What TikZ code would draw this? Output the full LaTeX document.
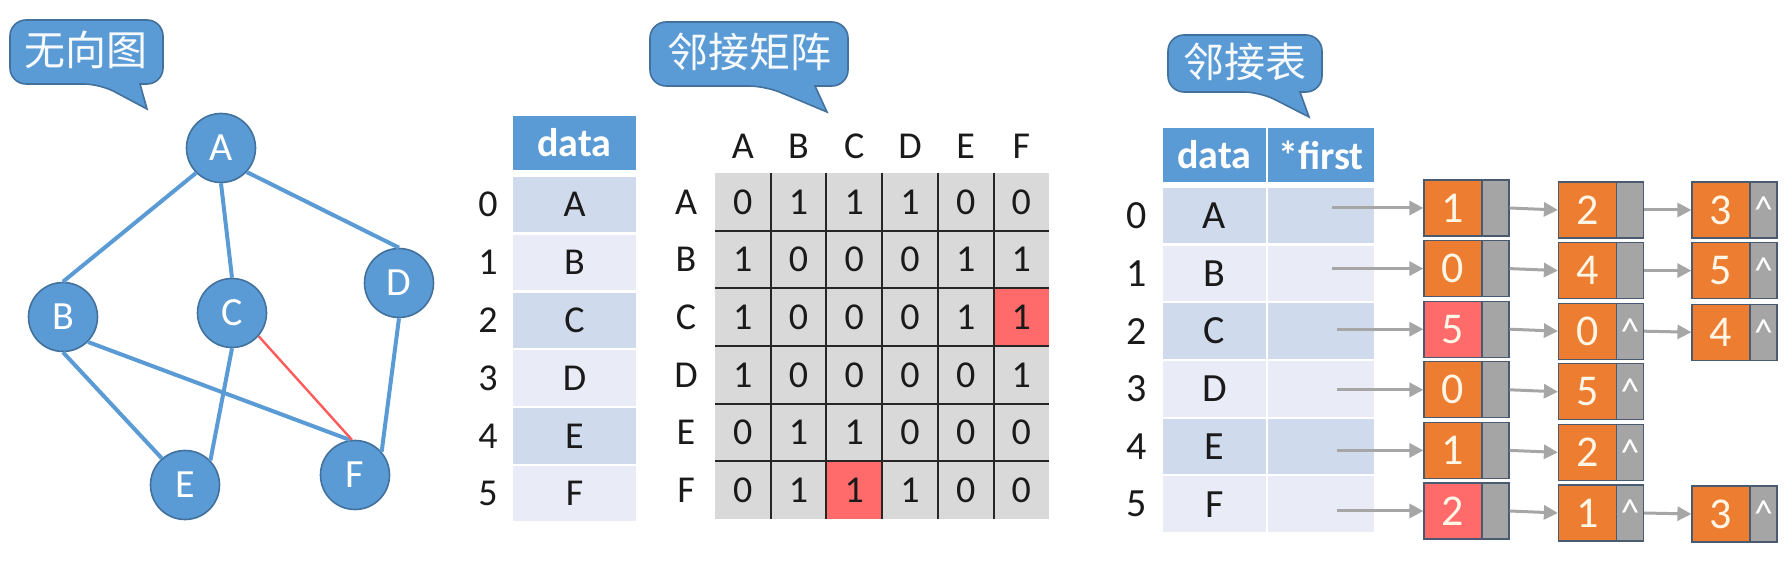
\documentclass[tikz,border=0pt]{standalone}
\usepackage{fontspec}
\setmainfont{Carlito}
\newfontfamily\cjk{Noto Sans CJK SC}
\usetikzlibrary{arrows.meta}
\definecolor{nblue}{HTML}{5B9BD5}
\definecolor{nborder}{HTML}{41719C}
\definecolor{rowA}{HTML}{CFDAEC}
\definecolor{rowB}{HTML}{E9ECF6}
\definecolor{mgray}{HTML}{D9D9D9}
\definecolor{hred}{HTML}{FF6B6B}
\definecolor{ored}{HTML}{ED7D31}
\definecolor{pgray}{HTML}{A5A5A5}
\definecolor{agray}{HTML}{A6A6A6}
\definecolor{redline}{HTML}{FF5B5B}
\definecolor{slate}{HTML}{4A5A70}
\definecolor{cream}{HTML}{FFF6E6}
\definecolor{txt}{HTML}{1A1A1A}
\newcommand{\LN}[7]{%
  \node[dnode, fill=#5] (d#1) at (#2,#4) {#6};
  \node[pnode] (p#1) at (#3,#4) {#7};}
\begin{document}
\begin{tikzpicture}[x=0.5pt,y=-0.5pt,
  gnode/.style={circle, fill=nblue, draw=nborder, line width=0.8pt, minimum size=34.5pt, inner sep=0pt, text=white, font=\fontsize{20}{22}\selectfont},
  gedge/.style={draw=nblue, line width=2pt},
  redge/.style={draw=redline, line width=1.2pt},
  callout/.style={fill=nblue, draw=nborder, line width=0.8pt},
  ctext/.style={text=white!95!nblue, font=\cjk\fontsize{20.5}{22}\selectfont, inner sep=0pt},
  hdr/.style={fill=nblue, inner sep=0pt, text=white, font=\bfseries\fontsize{20}{22}\selectfont, minimum height=27pt},
  tcell/.style={inner sep=0pt, text=txt, minimum height=27.75pt, font=\fontsize{19}{21}\selectfont},
  idx/.style={inner sep=0pt, text=txt, font=\fontsize{19}{21}\selectfont},
  mcell/.style={fill=mgray, minimum width=27.85pt, minimum height=28.85pt, inner sep=0pt, text=txt, font=\fontsize{19}{21}\selectfont},
  gridline/.style={draw=black!85, line width=1pt},
  dnode/.style={draw=slate, line width=0.6pt, minimum width=29pt, minimum height=28pt, inner sep=0pt, text=cream, font=\fontsize{22}{24}\selectfont},
  pnode/.style={fill=pgray, draw=slate, line width=0.6pt, minimum width=13.5pt, minimum height=28pt, inner sep=0pt, text=white, font=\fontsize{19}{21}\selectfont},
  larrow/.style={draw=agray, line width=1.5pt, -{Triangle[length=7pt,width=7pt]}}
]
\fill[white] (0,0) rectangle (1788,565);
\useasboundingbox (0,0) rectangle (1788,565);

% ---------- callouts ----------
\draw[callout] (140,84) [rounded corners=8] -- (163,84) -- (163,20) -- (10,20) -- (10,84) -- (100,84) [sharp corners] -- (147,109) -- cycle;
\node[ctext] (t1) at (86,50) {无向图};
\draw[callout] (815,86) [rounded corners=8] -- (848,86) -- (848,22) -- (650,22) -- (650,86) -- (765,86) [sharp corners] -- (827,112) -- cycle;
\node[ctext] (t2) at (749,52) {邻接矩阵};
\draw[callout] (1300,92) [rounded corners=8] -- (1322,92) -- (1322,35) -- (1168,35) -- (1168,92) -- (1260,92) [sharp corners] -- (1309,117) -- cycle;
\node[ctext] (t3) at (1245,62) {邻接表};

% ---------- graph ----------
\node[gnode] (A) at (221,148) {A};
\node[gnode] (B) at (63,317) {B};
\node[gnode] (C) at (232,313) {C};
\node[gnode] (D) at (399,283) {D};
\node[gnode] (E) at (185,485) {E};
\node[gnode] (F) at (355,475) {F};
\draw[gedge] (A.225) -- (B.north);
\draw[gedge] (A.south) -- (C.north);
\draw[gedge] (A.317) -- (D.north);
\draw[gedge] (B.south) -- (E.131);
\draw[gedge] (B.315) -- (F.98);
\draw[gedge] (C.south) -- (E.44);
\draw[gedge] (D.south) -- (F.41);
\draw[redge] (C.319) -- (F.95);

% ---------- vertex table (matrix section) ----------
\node[hdr, minimum width=61.5pt] (h1) at (574.5,143) {data};
\foreach \v [count=\i from 0] in {A,B,C,D,E,F}{
  \pgfmathsetmacro{\yy}{204.75+57.8*\i}
  \pgfmathtruncatemacro{\odd}{mod(\i,2)}
  \ifnum\odd=0 \def\rc{rowA}\else\def\rc{rowB}\fi
  \node[tcell, fill=\rc, minimum width=61.5pt] (v\i) at (574.5,\yy) {\v};
  \node[idx] (vi\i) at (488,\yy) {\i};
}

% ---------- adjacency matrix ----------
\foreach \l [count=\j from 0] in {A,B,C,D,E,F}{
  \node[idx] (ch\j) at ({742.85+55.7*\j},146) {\l};
  \node[idx] (rh\j) at (686,{201.85+57.7*\j}) {\l};
}
\foreach \row [count=\i from 0] in {{0,1,1,1,0,0},{1,0,0,0,1,1},{1,0,0,0,1,1},{1,0,0,0,0,1},{0,1,1,0,0,0},{0,1,1,1,0,0}}{
  \foreach \val [count=\j from 0] in \row {
    \node[mcell] (m\i\j) at ({742.85+55.7*\j},{201.85+57.7*\i}) {\val};
  }
}
\node[mcell, fill=hred] (m25) at (1021.35,317.25) {1};
\node[mcell, fill=hred] (m52) at (854.25,490.35) {1};
\foreach \j in {1,...,5}{
  \draw[gridline] ({715+55.7*\j},173) -- ({715+55.7*\j},519);
  \draw[gridline] (715,{173+57.7*\j}) -- (1049,{173+57.7*\j});
}

% ---------- adjacency list table ----------
\node[hdr, minimum width=51.5pt] (h2) at (1214.5,155) {data};
\node[hdr, minimum width=53pt] (h3) at (1321,155) {*first};
\foreach \v [count=\i from 0] in {A,B,C,D,E,F}{
  \pgfmathsetmacro{\yy}{215.75+57.7*\i}
  \pgfmathtruncatemacro{\odd}{mod(\i,2)}
  \ifnum\odd=0 \def\rc{rowA}\else\def\rc{rowB}\fi
  \node[tcell, fill=\rc, minimum width=51.5pt, font=\fontsize{20}{22}\selectfont] (l\i) at (1214.5,\yy) {\v};
  \node[tcell, fill=\rc, minimum width=53pt] (f\i) at (1321,\yy) {};
  \node[idx, font=\fontsize{20}{22}\selectfont] (li\i) at (1137,\yy) {\i};
}

% ---------- list nodes ----------
\LN{01}{1453}{1495.5}{208}{ored}{1}{}
\LN{02}{1587.5}{1630}{210}{ored}{2}{}
\LN{03}{1721}{1763.5}{210}{ored}{3}{\textasciicircum}
\LN{11}{1453}{1495.5}{268.6}{ored}{0}{}
\LN{12}{1587.5}{1630}{270.6}{ored}{4}{}
\LN{13}{1721}{1763.5}{270.6}{ored}{5}{\textasciicircum}
\LN{21}{1453}{1495.5}{329.2}{hred}{5}{}
\LN{22}{1587.5}{1630}{331.2}{ored}{0}{\textasciicircum}
\LN{23}{1721}{1763.5}{332.2}{ored}{4}{\textasciicircum}
\LN{31}{1453}{1495.5}{389.8}{ored}{0}{}
\LN{32}{1587.5}{1630}{391.8}{ored}{5}{\textasciicircum}
\LN{41}{1453}{1495.5}{450.4}{ored}{1}{}
\LN{42}{1587.5}{1630}{452.4}{ored}{2}{\textasciicircum}
\LN{51}{1453}{1495.5}{511}{hred}{2}{}
\LN{52}{1587.5}{1630}{513}{ored}{1}{\textasciicircum}
\LN{53}{1721}{1763.5}{514}{ored}{3}{\textasciicircum}

\coordinate (s0) at (1332,208);
\coordinate (s1) at (1332,268.6);
\coordinate (s2) at (1337,329.2);
\coordinate (s3) at (1337,389.8);
\coordinate (s4) at (1337,450.4);
\coordinate (s5) at (1337,511);
\foreach \r in {0,...,5}{ \draw[larrow] (s\r) -- (d\r1.west); }
\draw[larrow] (p01.east) -- (d02.west);
\draw[larrow] (p02.east) -- (d03.west);
\draw[larrow] (p11.east) -- (d12.west);
\draw[larrow] (p12.east) -- (d13.west);
\draw[larrow] (p21.east) -- (d22.west);
\draw[larrow] (p22.east) -- (d23.west);
\draw[larrow] (p31.east) -- (d32.west);
\draw[larrow] (p41.east) -- (d42.west);
\draw[larrow] (p51.east) -- (d52.west);
\draw[larrow] (p52.east) -- (d53.west);
\end{tikzpicture}
\end{document}
